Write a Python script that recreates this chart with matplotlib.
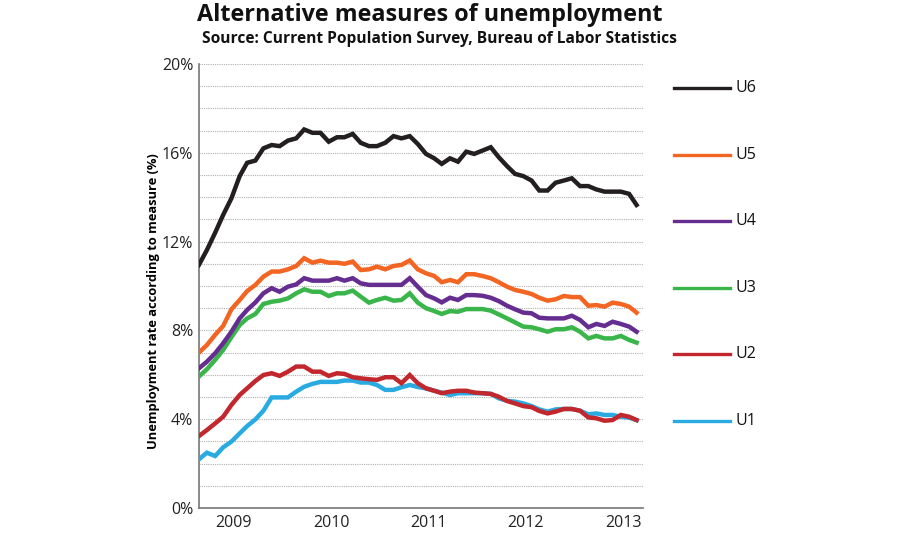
import pandas as pd
import numpy as np
import matplotlib
matplotlib.use("Agg")
import matplotlib.pyplot as plt
import matplotlib.transforms as mtransforms

plt.rcParams['font.family'] = ['Open Sans', 'DejaVu Sans']

# monthly values, Sep 2008 .. Mar 2013 (percent)
months = pd.date_range('2008-09-01', periods=55, freq='MS')

u6 = [10.95, 11.62, 12.4, 13.2, 13.95, 14.95, 15.55, 15.65, 16.2, 16.35,
      16.3, 16.55, 16.65, 17.05, 16.9, 16.9, 16.5, 16.7, 16.7, 16.85,
      16.45, 16.3, 16.3, 16.45, 16.75, 16.65, 16.75, 16.4, 15.95, 15.75,
      15.5, 15.75, 15.6, 16.05, 15.95, 16.1, 16.25, 15.8, 15.4, 15.05,
      14.95, 14.75, 14.3, 14.3, 14.65, 14.75, 14.85, 14.5, 14.5, 14.35,
      14.25, 14.25, 14.25, 14.15, 13.65]
u5 = [7.0, 7.34, 7.8, 8.2, 8.95, 9.37, 9.77, 10.05, 10.42, 10.65,
      10.65, 10.75, 10.9, 11.25, 11.05, 11.14, 11.05, 11.05, 11.0, 11.1,
      10.72, 10.75, 10.87, 10.75, 10.9, 10.95, 11.15, 10.75, 10.57, 10.45,
      10.17, 10.27, 10.17, 10.53, 10.53, 10.45, 10.35, 10.17, 9.97, 9.82,
      9.74, 9.64, 9.47, 9.34, 9.4, 9.55, 9.5, 9.5, 9.11, 9.14,
      9.07, 9.25, 9.19, 9.07, 8.8]
u4 = [6.29, 6.59, 6.97, 7.42, 7.94, 8.54, 8.92, 9.26, 9.67, 9.9,
      9.74, 9.97, 10.07, 10.35, 10.24, 10.24, 10.24, 10.35, 10.24, 10.35,
      10.12, 10.05, 10.05, 10.05, 10.05, 10.05, 10.35, 9.97, 9.59, 9.44,
      9.26, 9.47, 9.37, 9.59, 9.59, 9.56, 9.47, 9.32, 9.11, 8.95,
      8.8, 8.77, 8.57, 8.54, 8.54, 8.54, 8.66, 8.47, 8.14, 8.29,
      8.2, 8.39, 8.29, 8.17, 7.94]
u3 = [5.92, 6.25, 6.67, 7.12, 7.69, 8.24, 8.54, 8.74, 9.19, 9.29,
      9.34, 9.44, 9.67, 9.85, 9.74, 9.74, 9.55, 9.67, 9.67, 9.79,
      9.52, 9.25, 9.37, 9.47, 9.34, 9.37, 9.67, 9.25, 9.0, 8.87,
      8.74, 8.87, 8.84, 8.96, 8.96, 8.96, 8.89, 8.72, 8.54, 8.36,
      8.17, 8.14, 8.05, 7.94, 8.05, 8.05, 8.14, 7.94, 7.64, 7.75,
      7.64, 7.64, 7.75, 7.57, 7.45]
u2 = [3.24, 3.51, 3.81, 4.11, 4.64, 5.09, 5.39, 5.72, 5.99, 6.07,
      5.95, 6.14, 6.37, 6.37, 6.14, 6.14, 5.95, 6.07, 6.04, 5.89,
      5.84, 5.8, 5.77, 5.89, 5.89, 5.62, 5.99, 5.62, 5.39, 5.28,
      5.17, 5.24, 5.28, 5.28, 5.2, 5.17, 5.14, 5.01, 4.82, 4.71,
      4.59, 4.54, 4.37, 4.26, 4.34, 4.46, 4.46, 4.38, 4.08, 4.04,
      3.93, 3.96, 4.19, 4.11, 3.96]
u1 = [2.19, 2.49, 2.34, 2.73, 2.99, 3.36, 3.69, 3.99, 4.38, 4.98,
      4.98, 4.98, 5.24, 5.46, 5.59, 5.68, 5.68, 5.68, 5.74, 5.74,
      5.65, 5.65, 5.54, 5.32, 5.32, 5.44, 5.54, 5.45, 5.39, 5.28,
      5.2, 5.09, 5.17, 5.17, 5.17, 5.17, 5.14, 4.94, 4.83, 4.79,
      4.71, 4.59, 4.44, 4.34, 4.44, 4.46, 4.46, 4.38, 4.22, 4.26,
      4.19, 4.19, 4.11, 4.07, 3.96]

labels = ['U6', 'U5', 'U4', 'U3', 'U2', 'U1']
series = [u6, u5, u4, u3, u2, u1]
colors = ['#231f20', '#f26522', '#662d91', '#39b54a', '#c1272d', '#29abe2']
legend_y = [19, 16, 13, 10, 7, 4]
years = [2009, 2010, 2011, 2012, 2013]

fig = plt.figure(figsize=(9, 5.4), dpi=100)
ax = fig.add_axes([0.221, 0.0593, 0.4934, 0.8222])

# lower series first so the upper ones sit on top
for lab, vals, col in reversed(list(zip(labels, series, colors))):
    ax.plot(months, vals, color=col, lw=3.2, solid_joinstyle='miter', zorder=3)

ax.set_ylim(0, 20)
ax.set_xlim(months[0], months[-1] + pd.Timedelta(days=24))
ax.set_yticks(np.arange(0, 21, 4))
ax.set_yticklabels([f'{v}%' for v in range(0, 21, 4)])
ax.set_yticks(np.arange(0, 21, 1), minor=True)
ax.set_xticks([pd.Timestamp(f'{y}-01-10') for y in years])
ax.set_xticklabels([str(y) for y in years])
ax.tick_params(axis='both', which='both', length=0, labelsize=11.5, colors='#222222')
ax.tick_params(axis='y', pad=4)
ax.tick_params(axis='x', pad=5)
ax.grid(axis='y', which='both', color='#b0b0b0', linestyle=(0, (1, 1)), lw=0.8)
ax.set_axisbelow(True)

for s in ['top', 'right']:
    ax.spines[s].set_visible(False)
for s in ['left', 'bottom']:
    ax.spines[s].set_color('#777777')
    ax.spines[s].set_linewidth(1.2)

ax.set_ylabel('Unemployment rate according to measure (%)', fontsize=9.3,
              fontweight='bold')
ax.yaxis.set_label_coords(-0.087, 0.466)

# legend drawn to the right of the plot
tr = mtransforms.blended_transform_factory(ax.transAxes, ax.transData)
for lab, col, ly in zip(labels, colors, legend_y):
    ax.plot([1.07, 1.196], [ly - 0.08, ly - 0.08], color=col, lw=2.4,
            transform=tr, clip_on=False)
    ax.text(1.209, ly - 0.08, lab, transform=tr, fontsize=11.5,
            va='center', ha='left', color='#111111')

fig.text(0.477, 0.973, 'Alternative measures of unemployment', fontsize=16.8,
         fontweight='bold', ha='center', va='center', color='#111111')
fig.text(0.488, 0.928, 'Source: Current Population Survey, Bureau of Labor Statistics',
         fontsize=11.2, fontweight='bold', ha='center', va='center', color='#111111')

fig.savefig('out.png', dpi=100, facecolor='white')
